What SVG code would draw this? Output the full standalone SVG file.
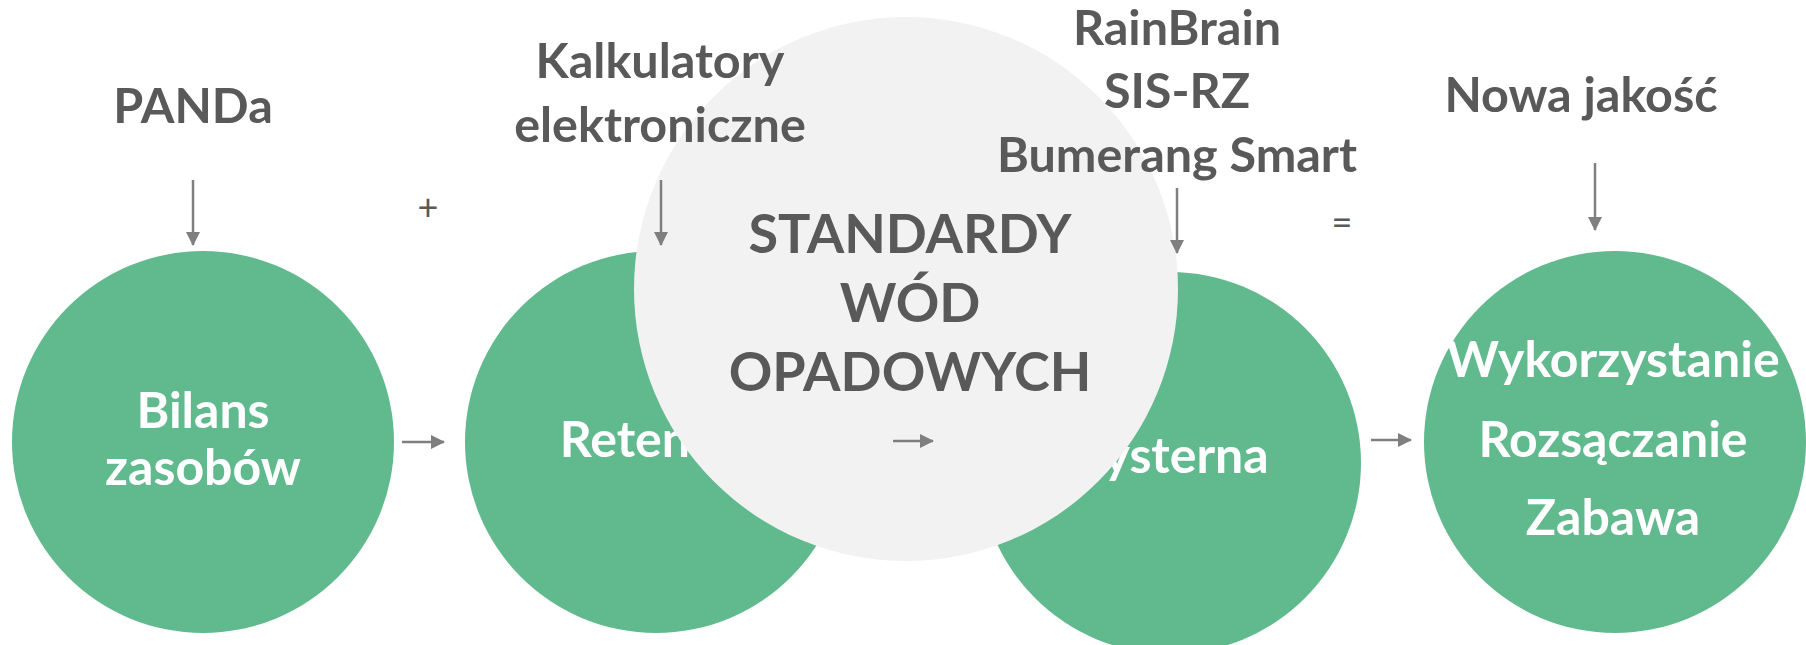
<svg xmlns="http://www.w3.org/2000/svg" width="1806" height="645" viewBox="0 0 1806 645">
<defs>
<marker id="ah" markerUnits="userSpaceOnUse" markerWidth="14" markerHeight="14" refX="13" refY="7" orient="auto">
<path d="M0,0 L14,7 L0,14 Z" fill="#7f7f7f"/>
</marker>
<style>
.g{fill:#61b98e}
.wt{font-family:Lato,"Open Sans",sans-serif;font-weight:bold;font-size:50px;fill:#ffffff;text-anchor:middle}
.lb{font-family:Lato,"Open Sans",sans-serif;font-weight:bold;font-size:48.5px;fill:#595959;text-anchor:middle}
.st{font-family:Lato,"Open Sans",sans-serif;font-weight:bold;font-size:54px;fill:#595959;text-anchor:middle}
.op{font-family:Lato,"Open Sans",sans-serif;font-size:36px;fill:#595959;text-anchor:middle}
.ar{stroke:#7f7f7f;stroke-width:2.5;fill:none;marker-end:url(#ah)}
</style>
</defs>
<g id="n1"><circle class="g" cx="203" cy="442" r="191"/><text class="wt" x="203" y="428">Bilans</text><text class="wt" x="203" y="485">zasobów</text></g>
<g id="n2"><circle class="g" cx="656" cy="442" r="191"/><text class="wt" x="656" y="457">Retencja</text></g>
<g id="n3"><circle class="g" cx="1170" cy="463" r="191"/><text class="wt" x="1170" y="473">Cysterna</text></g>
<g id="n4"><circle class="g" cx="1615" cy="442" r="191"/><text class="wt" x="1613" y="377">Wykorzystanie</text><text class="wt" x="1613" y="457">Rozsączanie</text><text class="wt" x="1613" y="535">Zabawa</text></g>
<g id="std"><circle cx="906" cy="289" r="272" fill="#f2f2f2"/><text class="st" x="910" y="253">STANDARDY</text><text class="st" x="910" y="322">WÓD</text><text class="st" x="910" y="391">OPADOWYCH</text></g>
<g id="labels">
<text class="lb" x="193" y="123">PANDa</text>
<text class="lb" x="660" y="78">Kalkulatory</text><text class="lb" x="660" y="142">elektroniczne</text>
<text class="lb" x="1177" y="45">RainBrain</text><text class="lb" x="1177" y="108">SIS-RZ</text><text class="lb" x="1177" y="172">Bumerang Smart</text>
<text class="lb" x="1581" y="112">Nowa jakość</text>
<text class="op" x="428" y="220">+</text>
<text class="op" x="1342" y="235">=</text>
</g>
<g id="connectors">
<line class="ar" x1="193" y1="180" x2="193" y2="245"/>
<line class="ar" x1="661" y1="180" x2="661" y2="245"/>
<line class="ar" x1="1177" y1="188" x2="1177" y2="253"/>
<line class="ar" x1="1595" y1="163" x2="1595" y2="230"/>
<line class="ar" x1="402" y1="442" x2="444" y2="442"/>
<line class="ar" x1="893" y1="441" x2="933" y2="441"/>
<line class="ar" x1="1371" y1="440" x2="1411" y2="440"/>
</g>
</svg>
